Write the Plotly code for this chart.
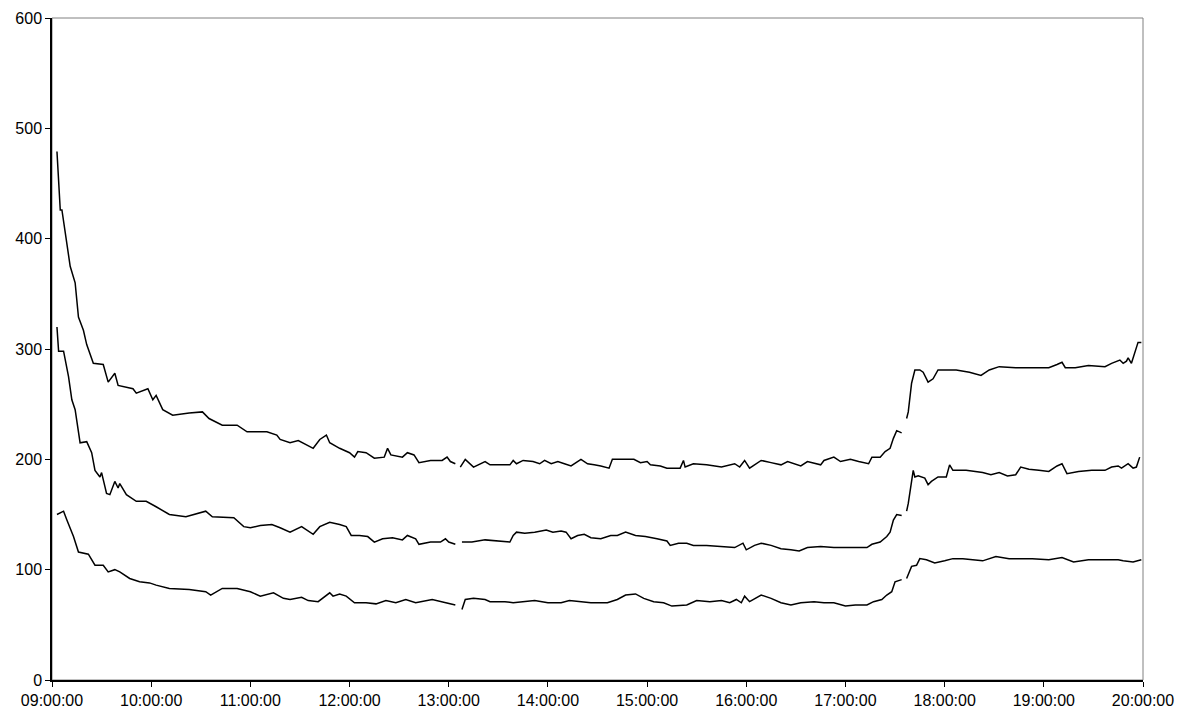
import plotly.graph_objects as go

# Top series (minute readings, None = gap in the data)
top_times = ["09:03", "09:05", "09:06", "09:11", "09:14", "09:16", "09:19", "09:21", "09:25", "09:31",
             "09:34", "09:38", "09:40", "09:49", "09:51", "09:58", "10:01", "10:03", "10:07", "10:13",
             "10:23", "10:31", "10:35", "10:43", "10:52", "10:58", "11:02", "11:10", "11:16", "11:18",
             "11:24", "11:29", "11:38", "11:42", "11:46", "11:48", "11:54", "12:00", "12:03", "12:05",
             "12:10", "12:15", "12:21", "12:23", "12:25", "12:32", "12:35", "12:39", "12:42", "12:49",
             "12:56", "12:59", "13:01", "13:04", "13:06",
             "13:07", "13:10", "13:15", "13:22", "13:25", "13:31", "13:37", "13:39", "13:41", "13:45",
             "13:51", "13:55", "13:58", "14:02", "14:06", "14:10", "14:14", "14:20", "14:24", "14:28",
             "14:32", "14:37", "14:39", "14:46", "14:52", "14:56", "15:00", "15:02", "15:08", "15:12",
             "15:18", "15:20", "15:22", "15:23", "15:28", "15:36", "15:45", "15:53", "15:56", "15:59",
             "16:02", "16:09", "16:15", "16:21", "16:25", "16:29", "16:33", "16:37", "16:45", "16:47",
             "16:53", "16:57", "17:03", "17:08", "17:14", "17:16", "17:21", "17:24", "17:27", "17:29",
             "17:31", "17:34", "17:35",
             "17:37", "17:38", "17:40", "17:42", "17:45", "17:47", "17:50", "17:53", "17:56", "18:02",
             "18:07", "18:15", "18:22", "18:27", "18:33", "18:43", "18:53", "19:03", "19:08", "19:11",
             "19:13", "19:19", "19:27", "19:37", "19:41", "19:46", "19:48", "19:50", "19:51", "19:53",
             "19:57", "19:59"]
top_values = [479, 426, 426, 375, 360, 329, 317, 304, 287, 286,
              270, 278, 267, 264, 260, 264, 254, 258, 245, 240,
              242, 243, 237, 231, 231, 225, 225, 225, 222, 218,
              215, 217, 210, 218, 222, 215, 210, 206, 202, 207,
              206, 201, 202, 210, 204, 202, 206, 204, 197, 199,
              199, 202, 198, 196, None,
              193, 200, 193, 198, 195, 195, 195, 199, 196, 199,
              198, 196, 199, 196, 198, 196, 194, 200, 196, 195,
              194, 192, 200, 200, 200, 197, 198, 195, 194, 192,
              192, 192, 199, 193, 196, 195, 193, 196, 193, 199,
              192, 199, 197, 195, 198, 196, 194, 198, 195, 199,
              202, 198, 200, 198, 196, 202, 202, 207, 210, 219,
              226, 224, None,
              237, 243, 269, 281, 281, 279, 270, 273, 281, 281,
              281, 279, 276, 281, 284, 283, 283, 283, 286, 288,
              283, 283, 285, 284, 287, 290, 287, 289, 292, 287,
              306, 306]

# Middle series
mid_times = ["09:03", "09:04", "09:07", "09:10", "09:12", "09:14", "09:17", "09:21", "09:24", "09:26",
             "09:29", "09:30", "09:33", "09:35", "09:38", "09:40", "09:41", "09:45", "09:51", "09:57",
             "10:03", "10:11", "10:21", "10:33", "10:37", "10:50", "10:56", "11:00", "11:06", "11:13",
             "11:18", "11:24", "11:31", "11:34", "11:38", "11:42", "11:48", "11:54", "11:58", "12:01",
             "12:06", "12:11", "12:15", "12:20", "12:26", "12:32", "12:35", "12:40", "12:42", "12:49",
             "12:55", "12:58", "13:00", "13:04", "13:06",
             "13:08", "13:14", "13:22", "13:28", "13:37", "13:39", "13:41", "13:46", "13:52", "13:59",
             "14:03", "14:08", "14:11", "14:14", "14:18", "14:22", "14:26", "14:32", "14:38", "14:42",
             "14:47", "14:53", "14:59", "15:06", "15:12", "15:14", "15:19", "15:24", "15:28", "15:36",
             "15:45", "15:53", "15:58", "16:00", "16:05", "16:09", "16:15", "16:21", "16:27", "16:32",
             "16:37", "16:45", "16:53", "17:01", "17:07", "17:13", "17:16", "17:21", "17:25", "17:27",
             "17:29", "17:31", "17:34", "17:35",
             "17:37", "17:38", "17:41", "17:42", "17:44", "17:48", "17:50", "17:52", "17:56", "18:01",
             "18:03", "18:05", "18:13", "18:23", "18:28", "18:33", "18:38", "18:43", "18:46", "18:51",
             "18:57", "19:03", "19:08", "19:11", "19:14", "19:21", "19:29", "19:37", "19:41", "19:45",
             "19:47", "19:51", "19:54", "19:56", "19:58"]
mid_values = [320, 298, 298, 275, 254, 245, 215, 216, 206, 190,
              184, 188, 169, 168, 180, 174, 178, 168, 162, 162,
              157, 150, 148, 153, 148, 147, 139, 138, 140, 141,
              138, 134, 139, 136, 132, 139, 143, 141, 139, 131,
              131, 130, 125, 128, 129, 127, 131, 128, 123, 125,
              125, 128, 125, 123, None,
              125, 125, 127, 126, 125, 131, 134, 133, 134, 136,
              134, 135, 134, 128, 131, 132, 129, 128, 131, 131,
              134, 131, 130, 128, 126, 122, 124, 124, 122, 122,
              121, 120, 124, 118, 122, 124, 122, 119, 118, 117,
              120, 121, 120, 120, 120, 120, 123, 125, 130, 134,
              145, 150, 149, None,
              153, 160, 190, 184, 185, 183, 177, 180, 184, 184,
              195, 190, 190, 188, 186, 188, 185, 186, 193, 191,
              190, 189, 194, 196, 187, 189, 190, 190, 193, 194,
              192, 196, 192, 193, 202]

# Bottom series
low_times = ["09:03", "09:07", "09:09", "09:13", "09:16", "09:19", "09:22", "09:26", "09:31", "09:34",
             "09:38", "09:41", "09:47", "09:53", "09:59", "10:03", "10:11", "10:23", "10:33", "10:36",
             "10:43", "10:52", "11:00", "11:06", "11:14", "11:20", "11:24", "11:31", "11:35", "11:41",
             "11:48", "11:50", "11:54", "11:58", "12:03", "12:10", "12:16", "12:22", "12:28", "12:34",
             "12:40", "12:50", "12:56", "13:04", "13:06",
             "13:08", "13:10", "13:15", "13:22", "13:25", "13:34", "13:39", "13:44", "13:52", "14:00",
             "14:08", "14:13", "14:20", "14:26", "14:36", "14:42", "14:47", "14:53", "14:58", "15:04",
             "15:10", "15:15", "15:24", "15:30", "15:38", "15:45", "15:50", "15:54", "15:57", "15:59",
             "16:02", "16:09", "16:15", "16:21", "16:27", "16:33", "16:41", "16:47", "16:53", "17:00",
             "17:06", "17:13", "17:17", "17:22", "17:25", "17:28", "17:30", "17:34", "17:35",
             "17:37", "17:40", "17:43", "17:45", "17:49", "17:54", "18:00", "18:05", "18:11", "18:23",
             "18:31", "18:39", "18:53", "19:03", "19:11", "19:18", "19:27", "19:37", "19:45", "19:48",
             "19:54", "19:59"]
low_values = [150, 153, 145, 130, 116, 115, 114, 104, 104, 98,
              100, 98, 92, 89, 88, 86, 83, 82, 80, 77,
              83, 83, 80, 76, 79, 74, 73, 75, 72, 71,
              79, 76, 78, 76, 70, 70, 69, 72, 70, 73,
              70, 73, 71, 68, None,
              64, 73, 74, 73, 71, 71, 70, 71, 72, 70,
              70, 72, 71, 70, 70, 73, 77, 78, 74, 71,
              70, 67, 68, 72, 71, 72, 70, 73, 70, 76,
              71, 77, 74, 70, 68, 70, 71, 70, 70, 67,
              68, 68, 71, 73, 77, 80, 89, 91, None,
              92, 103, 104, 110, 109, 106, 108, 110, 110, 108,
              112, 110, 110, 109, 111, 107, 109, 109, 109, 108,
              107, 109]


def stamp(times):
    return ["2000-01-01 " + t + ":00" for t in times]


fig = go.Figure()
for name, times, values in [("top", top_times, top_values),
                            ("middle", mid_times, mid_values),
                            ("bottom", low_times, low_values)]:
    fig.add_trace(go.Scatter(
        x=stamp(times), y=values, mode="lines", name=name,
        line=dict(color="black", width=1.5), connectgaps=False
    ))

# grey frame on top and right, black axes on left and bottom
fig.add_shape(type="rect", xref="paper", yref="paper", x0=0, y0=0, x1=1, y1=1,
              line=dict(color="#808080", width=1), layer="below")

# page body adds an 8px offset, so the figure is sized 8px smaller
fig.update_layout(
    width=1178, height=708,
    margin=dict(l=44, r=43, t=10, b=36, autoexpand=False),
    paper_bgcolor="white", plot_bgcolor="white",
    showlegend=False,
    font=dict(family="Liberation Sans, Arial, sans-serif", size=16, color="black"),
    xaxis=dict(
        range=["2000-01-01 09:00:00", "2000-01-01 20:00:00"],
        tickformat="%H:%M:%S", dtick=3600000,
        tick0="2000-01-01 09:00:00",
        showgrid=False, zeroline=False,
        showline=True, linecolor="black", linewidth=1.5,
        ticks="outside", ticklen=5, tickcolor="black",
    ),
    yaxis=dict(
        range=[0, 600], dtick=100,
        showgrid=False, zeroline=False,
        showline=True, linecolor="black", linewidth=1.5,
        ticks="outside", ticklen=5, tickcolor="black",
    ),
)

fig.write_html("out.html")
